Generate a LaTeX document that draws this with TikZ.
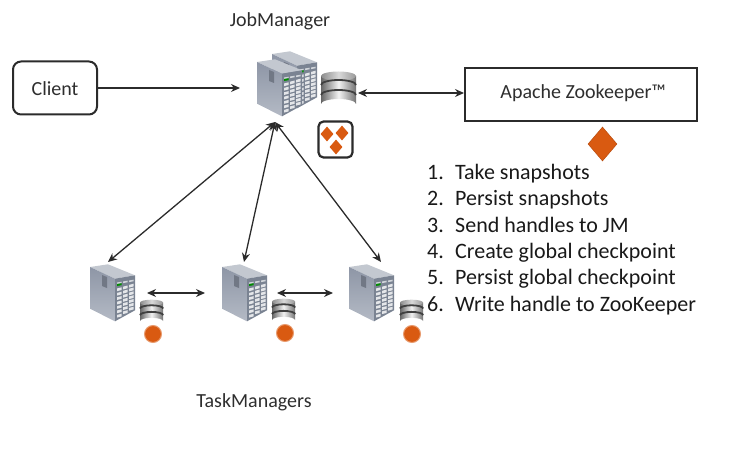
\documentclass[tikz,border=0pt]{standalone}
\usepackage{fontspec}
\setmainfont{Carlito}
\usetikzlibrary{arrows.meta,shapes.geometric}
\definecolor{ink}{HTML}{2B2B2B}
\definecolor{txt}{HTML}{2E2E2E}
\definecolor{orng}{HTML}{D95A11}
\definecolor{srvL}{HTML}{8E96A6}
\definecolor{srvLb}{HTML}{B4BAC5}
\definecolor{srvR}{HTML}{7A8392}
\definecolor{srvT}{HTML}{C3C8D0}
\tikzset{
 conn/.style={draw=ink,line width=1.3pt,{Stealth[length=9pt,width=8pt]}-{Stealth[length=9pt,width=8pt]}},
 connone/.style={draw=ink,line width=1.3pt,-{Stealth[length=9pt,width=8pt]}},
 anchorbox/.style={inner sep=0pt,outer sep=0pt,minimum width=#1,minimum height=60pt},
 label/.style={text=txt,font=\fontsize{20}{24}\selectfont},
 listline/.style={text=black!90,font=\fontsize{22}{26}\selectfont,anchor=base west,inner sep=0pt},
 badge/.style={shape=circle,fill=orng,draw=orng!60!white,line width=1pt,minimum size=17pt,inner sep=0pt},
 bigdia/.style={shape=diamond,fill=orng,draw=orng!85!black,line width=0.5pt,minimum width=29pt,minimum height=34pt,inner sep=0pt},
 smalldia/.style={shape=diamond,fill=orng,minimum width=13pt,minimum height=15pt,inner sep=0pt},
 srv/.pic={
  \fill[srvT] (0,0) -- (18,-2.7) -- (45,8.3) -- (25,11.7) -- cycle;
  \shade[top color=srvL,bottom color=srvLb] (0,0) -- (25,11.7) -- (25,54.3) -- (0,41.7) -- cycle;
  \fill[srvL!80!black] (12,8) -- (17,10) -- (17,21) -- (12,19) -- cycle;
  \fill[srvR] (25,11.7) -- (45,8.3) -- (45,43.3) -- (25,54.3) -- cycle;
  \foreach \c in {0,1,2}{
   \foreach \r in {0,...,6}{
    \fill[white!80!srvR]
      ({27+\c*6},{21.5+\r*4.4-\c*1.8-\r*\c*0.28})
      -- ++(4.6,-1.2) -- ++(0,2.7) -- ++(-4.6,1.2) -- cycle;
   }
   \fill[white!65!srvR] ({27+\c*6},{15.5-\c*1}) -- ++(4.6,-.8) -- ++(0,1.6) -- ++(-4.6,.8) -- cycle;
  }
  \fill[green!55!black] (27,17) -- ++(4.6,-.8) -- ++(0,2) -- ++(-4.6,.8) -- cycle;
 },
 dbase/.pic={
  \shade[left color=black!60,right color=black!55,middle color=black!5]
    (0,4) -- (0,32) arc[x radius=17.5,y radius=5,start angle=180,end angle=360] -- (35,4) -- cycle;
  \shade[left color=black!45,right color=black!40,middle color=black!15]
    (17.5,4) ellipse[x radius=17.5,y radius=4.5];
  \draw[black!75,line width=1.8pt] (0,13) arc[x radius=17.5,y radius=5,start angle=180,end angle=360];
  \draw[black!75,line width=1.8pt] (0,23) arc[x radius=17.5,y radius=5,start angle=180,end angle=360];
 }
}
\begin{document}
\begin{tikzpicture}[x=1pt,y=-1pt]
\useasboundingbox (0,0) rectangle (754,457);
% servers
\pic at (272,54) {srv};
\pic at (257,62) {srv};
\pic at (321,72) {dbase};
\pic at (90,267) {srv};
\pic at (222,267) {srv};
\pic at (349,267) {srv};
\pic[scale=0.66] at (140,300) {dbase};
\pic[scale=0.66] at (272,299) {dbase};
\pic[scale=0.66] at (400,300) {dbase};
% invisible anchor boxes for connectors
\node[anchorbox=40pt] (jm) at (275,92) {};
\node[anchorbox=36pt,minimum height=38pt] (jmdb) at (340,93) {};
\node[anchorbox=40pt] (tm1) at (108,292) {};
\node[anchorbox=40pt] (tm2) at (244,292) {};
\node[anchorbox=40pt] (tm3) at (381,292) {};
\node[anchorbox=2pt,minimum height=30pt] (tm1r) at (146,293) {};
\node[anchorbox=2pt,minimum height=30pt] (tm2l) at (206,293) {};
\node[anchorbox=2pt,minimum height=30pt] (tm2r) at (276,293) {};
\node[anchorbox=2pt,minimum height=30pt] (tm3l) at (334,293) {};
% badges
\node[badge] (b1) at (153,334) {};
\node[badge] (b2) at (285,333) {};
\node[badge] (b3) at (412,334) {};
% checkpoint icon
\node[draw=ink,line width=2.2pt,rounded corners=5pt,minimum width=34pt,minimum height=36pt,fill=white] (icon) at (335.5,139.5) {};
\node[smalldia] (d1) at (327,134) {};
\node[smalldia] (d2) at (342,133) {};
\node[smalldia] (d3) at (336,147) {};
% client and zookeeper
\node[draw=ink,line width=2pt,rounded corners=8pt,minimum width=84pt,minimum height=53pt,label] (client) at (55,88) {\raisebox{-8pt}[0pt][0pt]{Client}};
\node[draw=ink,line width=2pt,minimum width=232pt,minimum height=53pt,label] (zk) at (581,95) {\hspace*{4pt}\raisebox{-4pt}[0pt][0pt]{Apache Zookeeper™}};
\node[bigdia] (zkd) at (602.5,144) {};
% labels
\node[label] (lj) at (280,21) {JobManager};
\node[label] (lt) at (254,402) {TaskManagers};
% connectors
\draw[connone] (client.east) -- (240,88);
\draw[conn] (jmdb.east) -- (zk.west |- jmdb.east);
\draw[conn] (jm.south) -- (tm1.north);
\draw[conn] (jm.south) -- (tm2.north);
\draw[conn] (jm.south) -- (tm3.north);
\draw[conn] (tm1r) -- (tm2l);
\draw[conn] (tm2r) -- (tm3l);
% list
\foreach \n/\t/\y in {1/Take snapshots/179,2/Persist snapshots/205,3/Send handles to JM/232,4/Create global checkpoint/258,5/Persist global checkpoint/284,6/Write handle to ZooKeeper/311}{
 \node[listline] (n\n) at (427,\y) {\n.};
 \node[listline] (t\n) at (455,\y) {\t};
}
\end{tikzpicture}
\end{document}
